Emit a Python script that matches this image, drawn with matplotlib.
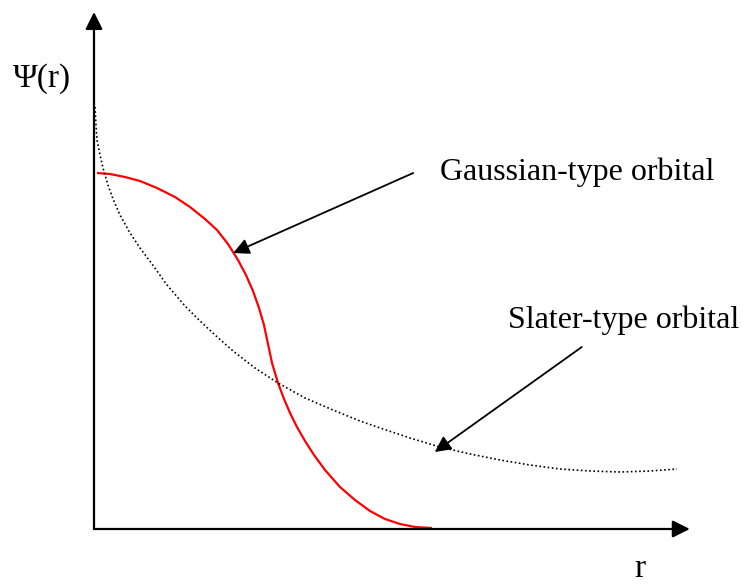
"""
Sketch of Slater-type vs Gaussian-type orbital radial shapes.
"""
import matplotlib
matplotlib.use('Agg')
import matplotlib.pyplot as plt

# values (arbitrary units)
gto_r = [0.05, 0.267, 0.517, 0.767, 1.05, 1.35, 1.60, 1.85, 2.05, 2.233,
         2.40, 2.533, 2.65, 2.75, 2.833, 2.90, 2.967, 3.067, 3.167, 3.267,
         3.383, 3.517, 3.667, 3.85, 4.10, 4.35, 4.60, 4.85, 5.10, 5.35, 5.633]
gto_psi = [7.12, 7.10, 7.04, 6.96, 6.82, 6.64, 6.44, 6.20, 5.98, 5.70,
           5.38, 5.08, 4.76, 4.42, 4.08, 3.70, 3.32, 2.92, 2.60, 2.32,
           2.04, 1.76, 1.48, 1.18, 0.84, 0.58, 0.36, 0.20, 0.10, 0.04, 0.02]

sto_r = [0.017, 0.033, 0.05, 0.10, 0.15, 0.233, 0.317, 0.433, 0.60, 0.767,
         0.967, 1.217, 1.517, 1.767, 2.017, 2.317, 2.683, 3.067, 3.517, 3.983,
         4.433, 4.817, 5.267, 5.767, 6.267, 6.767, 7.267, 7.767, 8.267, 8.767,
         9.267, 9.717]
sto_psi = [8.44, 8.08, 7.78, 7.48, 7.22, 6.88, 6.60, 6.28, 5.92, 5.62,
           5.30, 4.88, 4.46, 4.16, 3.88, 3.56, 3.22, 2.92, 2.62, 2.38,
           2.16, 2.00, 1.82, 1.64, 1.50, 1.38, 1.28, 1.20, 1.16, 1.14,
           1.16, 1.20]

x_end = 9.93   # tip of the r axis
y_end = 10.34  # tip of the psi axis

plt.rcParams['font.family'] = ['Liberation Serif', 'DejaVu Serif']

fig = plt.figure(figsize=(7.43, 5.85), dpi=100)
ax = fig.add_axes([0, 0, 1, 1])
ax.set_xlim(-1.5667, 10.8167)
ax.set_ylim(-1.12, 10.58)
ax.axis('off')

# axes with arrow heads
axis_arrow = dict(arrowstyle='-|>', color='black', lw=1.6, mutation_scale=26,
                  shrinkA=0, shrinkB=0)
ax.annotate('', xy=(x_end, 0), xytext=(0, 0), arrowprops=axis_arrow)
ax.annotate('', xy=(0, y_end), xytext=(0, 0), arrowprops=axis_arrow)

# the two orbitals
ax.plot(gto_r, gto_psi, color='red', lw=1.6, solid_capstyle='butt',
        solid_joinstyle='round')
ax.plot(sto_r, sto_psi, color='black', lw=1.2, linestyle=(0, (1, 1.5)))

# labels
ax.text(-1.35, 8.84, 'Ψ(r)', fontsize=24, va='baseline', ha='left')
ax.text(9.0, -0.96, 'r', fontsize=24, va='baseline', ha='left')

pointer = dict(arrowstyle='-|>', color='black', lw=1.3, mutation_scale=24,
               shrinkA=0, shrinkB=0)
ax.text(5.77, 6.98, 'Gaussian-type orbital', fontsize=23, va='baseline', ha='left')
ax.annotate('', xy=(2.32, 5.52), xytext=(5.32, 7.12), arrowprops=pointer)

ax.text(6.9, 4.02, 'Slater-type orbital', fontsize=23, va='baseline', ha='left')
ax.annotate('', xy=(5.68, 1.54), xytext=(8.13, 3.64), arrowprops=pointer)

fig.savefig('out.png', dpi=100)
